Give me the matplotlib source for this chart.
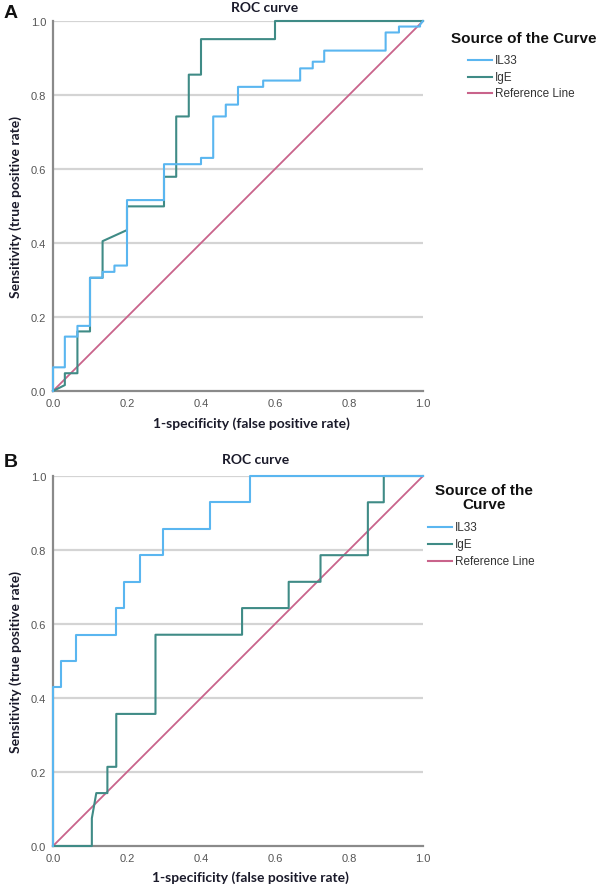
import matplotlib
matplotlib.use("Agg")
import matplotlib.pyplot as plt
from matplotlib.lines import Line2D

# panel A - ROC points
a_il33_fpr = [0.0, 0.0, 0.032, 0.032, 0.066, 0.066, 0.10, 0.10, 0.134, 0.134, 0.166, 0.166,
              0.20, 0.20, 0.30, 0.30, 0.40, 0.40, 0.433, 0.433, 0.467, 0.467, 0.50, 0.50,
              0.568, 0.568, 0.668, 0.668, 0.702, 0.702, 0.733, 0.733, 0.899, 0.899,
              0.935, 0.935, 0.992, 0.992, 1.0]
a_il33_tpr = [0.0, 0.064, 0.064, 0.147, 0.147, 0.176, 0.176, 0.306, 0.306, 0.322, 0.322, 0.339,
              0.339, 0.516, 0.516, 0.613, 0.613, 0.630, 0.630, 0.742, 0.742, 0.774, 0.774, 0.822,
              0.822, 0.839, 0.839, 0.872, 0.872, 0.890, 0.890, 0.920, 0.920, 0.969,
              0.969, 0.985, 0.985, 0.99, 1.0]
a_ige_fpr = [0.0, 0.032, 0.032, 0.066, 0.066, 0.10, 0.10, 0.134, 0.134, 0.20, 0.20, 0.30, 0.30,
             0.333, 0.333, 0.367, 0.367, 0.40, 0.40, 0.60, 0.60, 1.0]
a_ige_tpr = [0.0, 0.016, 0.048, 0.048, 0.161, 0.161, 0.306, 0.306, 0.405, 0.435, 0.499, 0.499, 0.579,
             0.579, 0.742, 0.742, 0.855, 0.855, 0.951, 0.951, 1.0, 1.0]

# panel B
b_il33_fpr = [0.0, 0.0, 0.021, 0.021, 0.063, 0.063, 0.171, 0.171, 0.191, 0.191, 0.234, 0.234,
              0.297, 0.297, 0.425, 0.425, 0.532, 0.532, 1.0]
b_il33_tpr = [0.0, 0.429, 0.429, 0.50, 0.50, 0.571, 0.571, 0.643, 0.643, 0.714, 0.714, 0.786,
              0.786, 0.857, 0.857, 0.929, 0.929, 1.0, 1.0]
b_ige_fpr = [0.0, 0.105, 0.105, 0.117, 0.147, 0.147, 0.171, 0.171, 0.277, 0.277, 0.511, 0.511,
             0.637, 0.637, 0.723, 0.723, 0.851, 0.851, 0.894, 0.894, 1.0]
b_ige_tpr = [0.0, 0.0, 0.075, 0.143, 0.143, 0.214, 0.214, 0.357, 0.357, 0.571, 0.571, 0.643,
             0.643, 0.714, 0.714, 0.786, 0.786, 0.929, 0.929, 1.0, 1.0]

ref_line = [0.0, 1.0]
ticks = [0.0, 0.2, 0.4, 0.6, 0.8, 1.0]
series_names = ["IL33", "IgE", "Reference Line"]

c_il33 = "#5ab6f0"
c_ige = "#3f8b86"
c_ref = "#c9638b"

W, H = 600, 895
fig = plt.figure(figsize=(W / 100, H / 100), dpi=100)


def px_axes(x0, y0, x1, y1):
    # pixel box (top-left origin) -> figure axes
    return fig.add_axes([x0 / W, 1 - y1 / H, (x1 - x0) / W, (y1 - y0) / H])


def roc_panel(ax, fpr1, tpr1, fpr2, tpr2):
    ax.set_xlim(0, 1)
    ax.set_ylim(0, 1)
    for t in ticks[1:]:
        ax.axhline(t, color="#d4d4d4", lw=1.6, zorder=0)
    ax.plot(ref_line, ref_line, color=c_ref, lw=1.3, zorder=3, clip_on=False)
    ax.plot(fpr2, tpr2, color=c_ige, lw=1.5, zorder=4, clip_on=False)
    ax.plot(fpr1, tpr1, color=c_il33, lw=1.5, zorder=5, clip_on=False)
    ax.set_xticks(ticks)
    ax.set_yticks(ticks)
    ax.set_xticklabels([f"{t:.1f}" for t in ticks])
    ax.set_yticklabels([f"{t:.1f}" for t in ticks])
    ax.tick_params(length=0, labelsize=8, labelcolor="#555555", pad=5)
    for lab in ax.get_xticklabels() + ax.get_yticklabels():
        lab.set_family("Liberation Sans")
    for s in ["top", "right"]:
        ax.spines[s].set_visible(False)
    for s in ["left", "bottom"]:
        ax.spines[s].set_color("#8a8a8a")
        ax.spines[s].set_linewidth(1.6)
        ax.spines[s].set_zorder(2)
    ax.set_ylabel("Sensitivity (true positive rate)", fontsize=10, fontweight="bold",
                  family="Lato", color="#1a1a2a", labelpad=6)
    ax.patch.set_alpha(0)


def legend(title, x_title, y_title, x_line, y_items):
    fig.text(x_title / W, 1 - y_title / H, title, ha="center", va="center",
             fontsize=11, fontweight="bold", family="Liberation Sans", color="#111111",
             linespacing=1.05)
    cols = [c_il33, c_ige, c_ref]
    for name, col, y in zip(series_names, cols, y_items):
        fig.add_artist(Line2D([x_line / W, (x_line + 24) / W], [1 - y / H, 1 - y / H],
                              color=col, lw=1.5))
        fig.text((x_line + 27) / W, 1 - y / H, name, ha="left", va="center",
                 fontsize=8.5, family="Liberation Sans", color="#333333")


# panel A
axA = px_axes(53, 22, 423, 392)
roc_panel(axA, a_il33_fpr, a_il33_tpr, a_ige_fpr, a_ige_tpr)
fig.text(265 / W, 1 - 8 / H, "ROC curve", ha="center", va="center", fontsize=10,
         fontweight="bold", family="Lato", color="#1a1a2a")
fig.text(251 / W, 1 - 424 / H, "1-specificity (false positive rate)", ha="center", va="center",
         fontsize=10, fontweight="bold", family="Lato", color="#1a1a2a")
fig.text(4 / W, 1 - 13 / H, "A", ha="left", va="center", fontsize=14, fontweight="bold",
         family="Liberation Sans", color="#111111")
legend("Source of the Curve", 524, 39, 468, [61, 78, 94])

# panel B
axB = px_axes(53, 477, 423, 847)
roc_panel(axB, b_il33_fpr, b_il33_tpr, b_ige_fpr, b_ige_tpr)
fig.text(256 / W, 1 - 460 / H, "ROC curve", ha="center", va="center", fontsize=10,
         fontweight="bold", family="Lato", color="#1a1a2a")
fig.text(250 / W, 1 - 878 / H, "1-specificity (false positive rate)", ha="center", va="center",
         fontsize=10, fontweight="bold", family="Lato", color="#1a1a2a")
fig.text(4 / W, 1 - 463 / H, "B", ha="left", va="center", fontsize=14, fontweight="bold",
         family="Liberation Sans", color="#111111")
legend("Source of the\nCurve", 484, 498, 428, [528, 545, 562])

fig.savefig("out.png", dpi=100)
